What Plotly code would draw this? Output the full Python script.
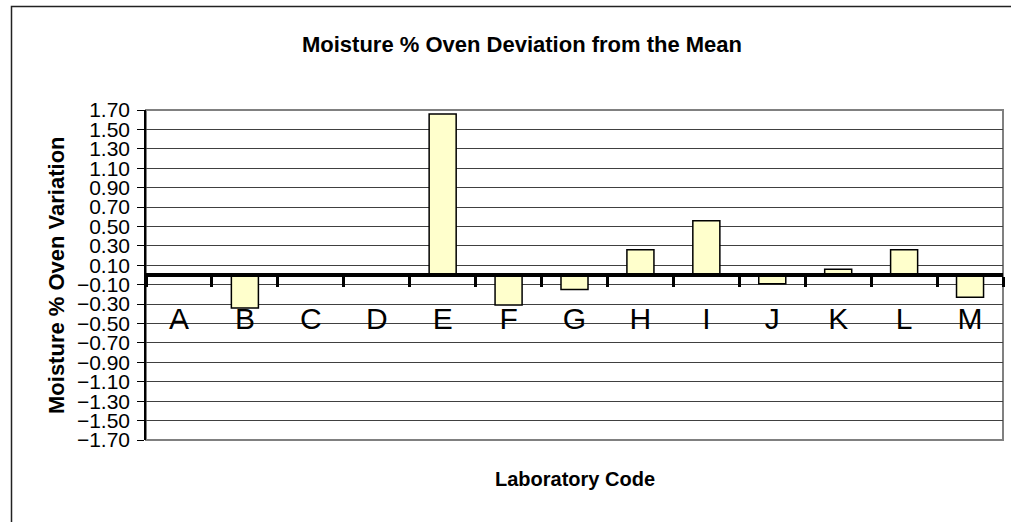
import plotly.graph_objects as go

labs = ["A", "B", "C", "D", "E", "F", "G", "H", "I", "J", "K", "L", "M"]
deviation = [0.0, -0.34, 0.0, 0.0, 1.66, -0.31, -0.15, 0.26, 0.56, -0.09, 0.06, 0.26, -0.23]

W, H = 1011, 522
ML, MR, MT, MB = 146, 8, 110, 82
PW, PH = W - ML - MR, H - MT - MB

def px_x(px):
    return (px - ML) / PW

def px_y(py):
    return (H - MB - py) / PH

FONT = "Liberation Sans, Arial, sans-serif"

fig = go.Figure()
fig.add_trace(go.Bar(
    x=labs, y=deviation,
    marker=dict(color="#FFFFCC", line=dict(color="#000000", width=1.5)),
    showlegend=False,
))

fig.update_layout(
    width=W, height=H,
    margin=dict(l=ML, r=MR, t=MT, b=MB, autoexpand=False),
    paper_bgcolor="white", plot_bgcolor="white",
    bargap=0.59,
    title=dict(text="Moisture % Oven Deviation from the Mean",
               font=dict(family=FONT, size=22, color="black", weight="bold"),
               x=522 / W, xref="container", xanchor="center",
               y=1 - 44 / H, yref="container", yanchor="middle"),
    xaxis=dict(
        type="category",
        anchor="free", position=0.5,
        showline=True, linecolor="black", linewidth=4,
        ticks="outside", tickson="boundaries", ticklen=10, tickwidth=3, tickcolor="black",
        showgrid=False, zeroline=False,
        tickfont=dict(family=FONT, size=30, color="black"),
        ticklabelstandoff=16,
    ),
    yaxis=dict(
        range=[-1.7, 1.7], tick0=0.1, dtick=0.2, tickformat=".2f",
        showline=True, linecolor="black", linewidth=1.5,
        ticks="outside", ticklen=7, tickwidth=1, tickcolor="black",
        showgrid=True, gridcolor="#404040", gridwidth=1,
        zeroline=False,
        tickfont=dict(family=FONT, size=21, color="black"),
        ticklabelstandoff=3,
    ),
    shapes=[
        dict(type="rect", xref="paper", yref="paper", x0=0, x1=1, y0=0, y1=1,
             line=dict(color="#808080", width=2), fillcolor="rgba(0,0,0,0)", layer="below"),
        dict(type="rect", xref="paper", yref="paper",
             x0=px_x(11.5), x1=px_x(1040), y0=px_y(560), y1=px_y(6.5),
             line=dict(color="#222222", width=1.5), fillcolor="rgba(0,0,0,0)"),
    ],
    annotations=[
        dict(text="Moisture % Oven Variation", xref="paper", yref="paper",
             x=px_x(56), y=0.5, textangle=-90, showarrow=False,
             xanchor="center", yanchor="middle",
             font=dict(family=FONT, size=22, color="black", weight="bold")),
        dict(text="Laboratory Code", xref="paper", yref="paper",
             x=px_x(575), y=px_y(479), showarrow=False,
             xanchor="center", yanchor="middle",
             font=dict(family=FONT, size=20, color="black", weight="bold")),
    ],
)

fig.write_html("out.html",
               config={"displayModeBar": False},
               post_script="document.body.style.margin='0';document.body.style.overflow='hidden';")
